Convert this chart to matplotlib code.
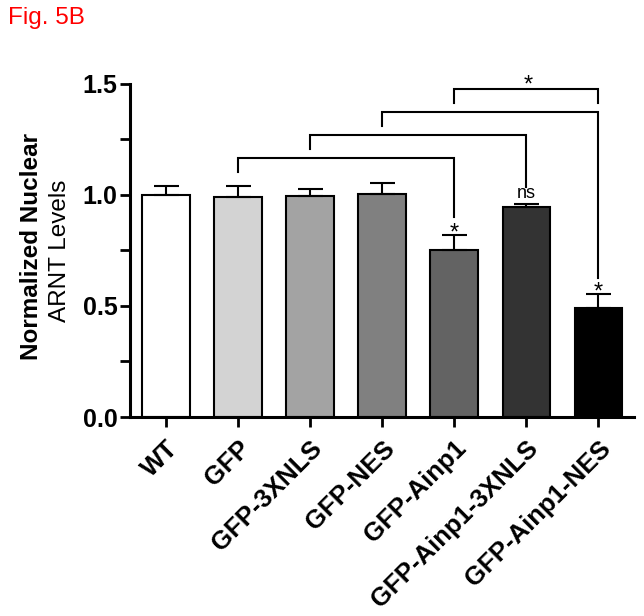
import numpy as np
import matplotlib
matplotlib.use("Agg")
import matplotlib.pyplot as plt
from matplotlib.ticker import MultipleLocator

plt.rcParams['font.family'] = ['Liberation Sans', 'DejaVu Sans']

# Data
groups = ["WT", "GFP", "GFP-3XNLS", "GFP-NES", "GFP-Ainp1",
          "GFP-Ainp1-3XNLS", "GFP-Ainp1-NES"]
means = [1.00, 0.99, 0.995, 1.005, 0.75, 0.945, 0.49]
errors = [0.04, 0.05, 0.03, 0.05, 0.07, 0.012, 0.065]
colors = ["#ffffff", "#d3d3d3", "#a3a3a3", "#808080", "#636363", "#333333", "#000000"]

# Significance brackets: (x_left, x_right, y_line, y_left_end, y_right_end)
brackets = [
    (1, 4, 1.168, 1.105, 0.902),
    (2, 5, 1.270, 1.206, 1.037),
    (3, 6, 1.373, 1.308, 0.626),
    (4, 6, 1.476, 1.413, 1.413),
]
# (x, baseline y, text)
marks = [(4, 0.80, "*"), (5, 0.985, "ns"), (6, 0.535, "*"), (5.02, 1.465, "*")]

fig = plt.figure(figsize=(6.44, 6.16), dpi=100)
ax = fig.add_axes([0.202, 0.323, 0.783, 0.541])

x = np.arange(len(groups))
ax.bar(x, means, width=0.66, color=colors, edgecolor="black", linewidth=1.5,
       yerr=[np.zeros(len(errors)), errors], capsize=9,
       error_kw=dict(elinewidth=1.5, capthick=1.5, ecolor="black"), zorder=2)

for xl, xr, yl, y1, y2 in brackets:
    ax.plot([xl, xl, xr, xr], [y1, yl, yl, y2], color="black", lw=1.5,
            clip_on=False, solid_joinstyle="miter")

for xm, ym, txt in marks:
    fs = 13 if txt == "ns" else 17
    ax.text(xm, ym, txt, ha="center", va="baseline", fontsize=fs, clip_on=False)

ax.set_xlim(-0.5, 6.5)
ax.set_ylim(0, 1.5)
ax.yaxis.set_minor_locator(MultipleLocator(0.25))
ax.set_yticks([0, 0.5, 1.0, 1.5])
ax.set_yticklabels(["0.0", "0.5", "1.0", "1.5"], fontsize=18, fontweight="bold")
ax.set_xticks(x)
ax.set_xticklabels(groups, rotation=45, ha="right", rotation_mode="anchor",
                   fontsize=18.5, fontweight="bold")

for s in ["top", "right"]:
    ax.spines[s].set_visible(False)
for s in ["left", "bottom"]:
    ax.spines[s].set_linewidth(2.2)
ax.tick_params(axis="both", which="both", width=2, length=7, direction="out")
ax.tick_params(axis="y", pad=2)
ax.tick_params(axis="x", pad=7)

fig.text(32 / 644, 1 - 246 / 616, "Normalized Nuclear", rotation=90,
         ha="center", va="center", fontsize=17.5, fontweight="bold")
fig.text(60 / 644, 1 - 251 / 616, "ARNT Levels", rotation=90,
         ha="center", va="center", fontsize=17.5)

fig.text(8 / 644, 1 - 18 / 616, "Fig. 5B", color="red", fontsize=17.5,
         ha="left", va="center")

fig.savefig("out.png", dpi=100)
